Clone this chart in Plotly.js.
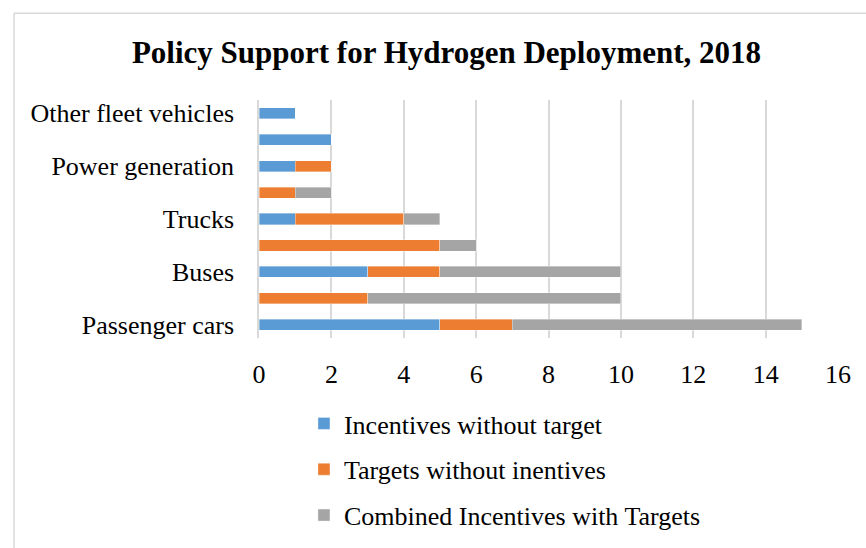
<!DOCTYPE html>
<html>
<head>
<meta charset="utf-8">
<script src="https://cdn.plot.ly/plotly-3.0.1.min.js"></script>
<style>body{margin:0;background:#fff}#chart{width:866px;height:548px}</style>
</head>
<body>
<div id="chart"></div>
<script>
// Categories, bottom to top
const categories = ["Passenger cars", "Refuelling stations", "Buses", "Forklifts", "Trucks", "Heat in buildings", "Power generation", "Industry", "Other fleet vehicles"];
const incentivesWithoutTarget = [5, 0, 3, 0, 1, 0, 1, 2, 1];
const targetsWithoutIncentives = [2, 3, 2, 5, 3, 1, 1, 0, 0];
const combinedIncentivesTargets = [8, 7, 5, 1, 1, 1, 0, 0, 0];
const seriesNames = ["Incentives without target", "Targets without inentives", "Combined Incentives with Targets"];
const xTicks = [0, 2, 4, 6, 8, 10, 12, 14, 16];
const shownCategories = categories.filter((c, i) => i % 2 === 0);

const colors = ["#5B9BD5", "#ED7D31", "#A5A5A5"];
const FONT = "Liberation Serif, Times New Roman, serif";
const seriesValues = [incentivesWithoutTarget, targetsWithoutIncentives, combinedIncentivesTargets];

const traces = seriesValues.map((vals, k) => ({
  type: "bar",
  orientation: "h",
  y: categories,
  x: vals,
  name: seriesNames[k],
  legendgroup: "g" + k,
  marker: {color: colors[k], line: {color: "rgba(255,255,255,0.6)", width: 0.6}},
  hoverinfo: "x+y+name"
}));

const PL = 259, PT = 100, PW = 579, PH = 238.5;
const bx = (px) => (px - PL) / PW;
const by = (py) => 1 - (py - PT) / PH;

const layout = {
  width: 866, height: 548,
  paper_bgcolor: "#fff", plot_bgcolor: "#fff",
  margin: {l: PL, r: 866 - PL - PW, t: PT, b: 548 - PT - PH, pad: 0, autoexpand: false},
  barmode: "stack",
  bargap: 0.58,
  font: {family: FONT, color: "#000", size: 26},
  title: {
    text: "<b>Policy Support for Hydrogen Deployment, 2018</b>",
    font: {family: FONT, size: 31, color: "#000"},
    x: 0.5156, xanchor: "center", xref: "container",
    y: 0.905, yanchor: "middle", yref: "container"
  },
  xaxis: {
    range: [0, 16],
    tickvals: xTicks,
    ticktext: xTicks.map(String),
    tickangle: 0,
    showgrid: true, gridcolor: "#d9d9d9", gridwidth: 1.5,
    zeroline: false, showline: false,
    ticks: "", ticklabelstandoff: 18,
    tickfont: {family: FONT, size: 26, color: "#000"},
    automargin: false,
    fixedrange: true
  },
  yaxis: {
    type: "category",
    categoryorder: "array", categoryarray: categories,
    range: [-0.5, categories.length - 0.5],
    tickvals: shownCategories,
    ticktext: shownCategories,
    showgrid: false, zeroline: false,
    showline: true, linecolor: "#d9d9d9", linewidth: 1.5,
    ticks: "", ticklabelstandoff: 18,
    tickfont: {family: FONT, size: 26, color: "#000"},
    automargin: false,
    fixedrange: true
  },
  showlegend: true,
  legend: {
    orientation: "v",
    xref: "container", yref: "container",
    x: 0.351, xanchor: "left",
    y: 0.27, yanchor: "top",
    traceorder: "grouped",
    tracegroupgap: 9,
    font: {family: FONT, size: 26, color: "#000"},
    bgcolor: "rgba(0,0,0,0)"
  },
  shapes: [
    {type: "line", xref: "paper", yref: "paper", x0: bx(14), x1: bx(900), y0: by(13), y1: by(13), line: {color: "#d9d9d9", width: 1.5}},
    {type: "line", xref: "paper", yref: "paper", x0: bx(14), x1: bx(14), y0: by(13), y1: by(600), line: {color: "#d9d9d9", width: 1.5}}
  ]
};

Plotly.newPlot("chart", traces, layout, {displayModeBar: false, responsive: false});
</script>
</body>
</html>
